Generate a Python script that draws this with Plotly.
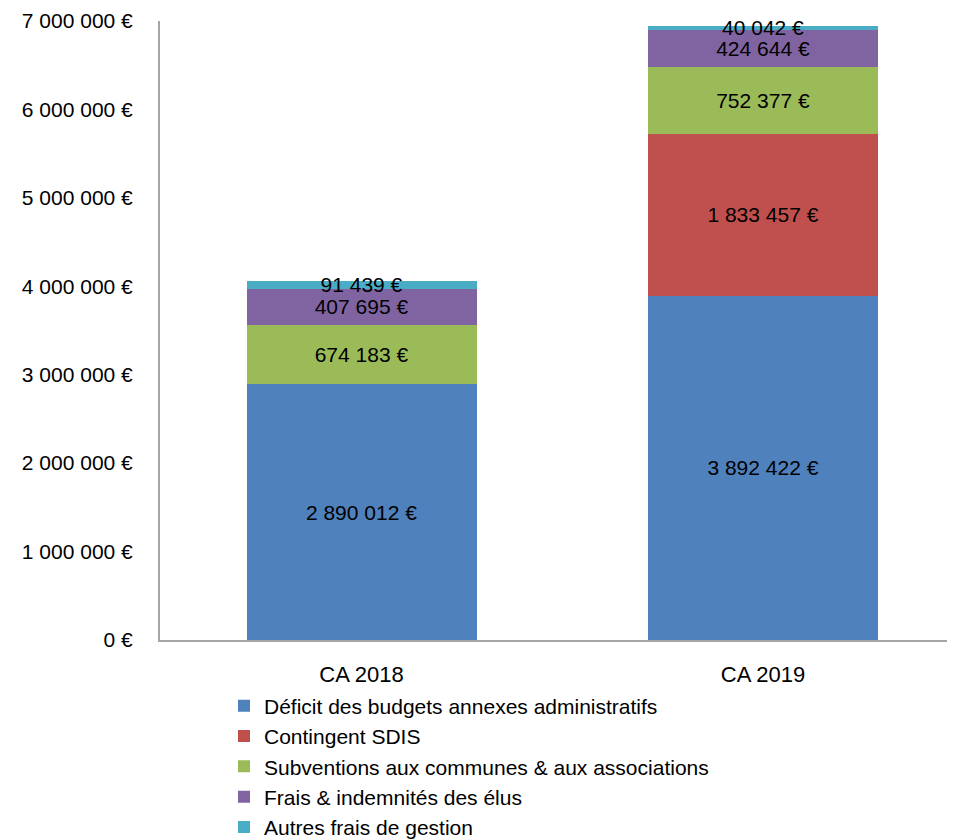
import plotly.graph_objects as go

categories = ["CA 2018", "CA 2019"]
series_names = [
    "Déficit des budgets annexes administratifs",
    "Contingent SDIS",
    "Subventions aux communes & aux associations",
    "Frais & indemnités des élus",
    "Autres frais de gestion",
]
deficit = [2890012, 3892422]
sdis = [0, 1833457]
subventions = [674183, 752377]
frais_elus = [407695, 424644]
autres = [91439, 40042]
colors = ["#4F81BD", "#C0504D", "#9BBB59", "#8064A2", "#4BACC6"]
y_ticks = [0, 1000000, 2000000, 3000000, 4000000, 5000000, 6000000, 7000000]


def fmt_eur(v):
    return f"{v:,}".replace(",", " ") + " €"


FONT = "Liberation Sans"
fig = go.Figure()
for name, vals, col in zip(series_names, [deficit, sdis, subventions, frais_elus, autres], colors):
    texts = [("" if v == 0 else fmt_eur(v)) for v in vals]
    fig.add_trace(go.Bar(
        x=categories, y=vals, name=name, marker=dict(color=col, line=dict(width=0)),
        text=texts, textposition="inside", insidetextanchor="middle",
        textangle=0, constraintext="none", cliponaxis=False,
        textfont=dict(family=FONT, size=21, color="#000000"),
        width=0.573, hoverinfo="skip",
    ))

fig.update_layout(
    barmode="stack",
    width=955, height=839,
    margin=dict(l=152, r=0, t=13, b=207, autoexpand=False),
    paper_bgcolor="white", plot_bgcolor="white",
    font=dict(family=FONT, color="#000000"),
    showlegend=True,
    legend=dict(
        orientation="v", traceorder="normal",
        x=0.0797, xanchor="left", y=-0.0737, yanchor="top",
        font=dict(family=FONT, size=21, color="#000000"),
        bgcolor="rgba(0,0,0,0)",
    ),
    xaxis=dict(
        range=[-0.502, 1.498], showline=True, linecolor="#A6A6A6", linewidth=2,
        ticks="", showgrid=False, tickfont=dict(family=FONT, size=22),
        ticklabelstandoff=14, fixedrange=True,
    ),
    yaxis=dict(
        range=[0, 7000000], tickvals=y_ticks, ticktext=[fmt_eur(v) for v in y_ticks],
        showline=True, linecolor="#A6A6A6", linewidth=2, ticks="", showgrid=False,
        zeroline=False, tickfont=dict(family=FONT, size=21),
        ticklabelstandoff=21, fixedrange=True,
    ),
)

fig.write_html("out.html")
